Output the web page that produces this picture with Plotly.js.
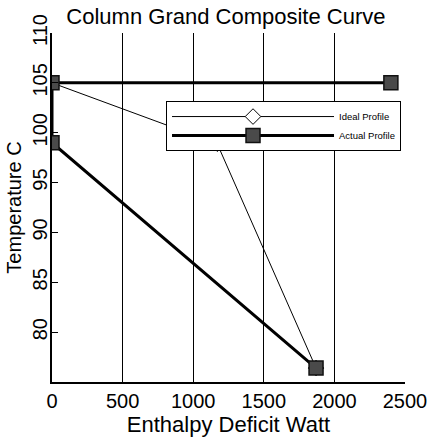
<!DOCTYPE html>
<html><head><meta charset="utf-8">
<script src="https://cdn.plot.ly/plotly-3.0.1.min.js"></script>
<style>html,body{margin:0;padding:0;background:#fff;}#c{width:432px;height:439px;}</style>
</head><body><div id="c"></div>
<script>
const idealX = [0, 1170, 1870];
const idealY = [105, 98.9, 76.4];
const actualX = [2400, 0, 0, 1870];
const actualY = [105, 105, 99, 76.4];
const xTicks = [0, 500, 1000, 1500, 2000, 2500];
const yTicks = [80, 85, 90, 95, 100, 105, 110];

const traces = [
  {x: idealX, y: idealY, name: 'Ideal Profile', mode: 'lines+markers',
   line: {color: '#000', width: 1},
   marker: {symbol: 'diamond', size: 12, color: '#fff', line: {color: '#000', width: 1}}},
  {x: actualX, y: actualY, name: 'Actual Profile', mode: 'lines+markers',
   line: {color: '#000', width: 3},
   marker: {symbol: 'square', size: 14, color: '#4a4a4a', line: {color: '#111', width: 1.5}}}
];
const layout = {
  width: 432, height: 439,
  margin: {l: 52, r: 27, t: 33, b: 57},
  paper_bgcolor: '#fff', plot_bgcolor: '#fff',
  font: {family: 'Liberation Sans, Arial, sans-serif', color: '#000'},
  title: {text: 'Column Grand Composite Curve', font: {size: 22, color: '#000'}, x: 0.523, xanchor: 'center', y: 0.962, yanchor: 'middle'},
  xaxis: {range: [0, 2500], tickvals: xTicks, showgrid: true, gridcolor: '#000', gridwidth: 1,
    zeroline: false, showline: true, linecolor: '#000', linewidth: 1.5, ticks: '',
    tickfont: {size: 20}, title: {text: 'Enthalpy Deficit Watt', font: {size: 22}, standoff: 4}},
  yaxis: {range: [75, 110], tickvals: yTicks, showgrid: false, zeroline: false,
    showline: true, linecolor: '#000', linewidth: 1.5, ticks: 'inside', ticklen: 6, tickcolor: '#000',
    tickangle: -90, tickfont: {size: 20}, ticklabelstandoff: -5,
    title: {text: 'Temperature C', font: {size: 20}, standoff: 2}},
  showlegend: true,
  legend: {x: 0.323, y: 0.805, xanchor: 'left', yanchor: 'top', bgcolor: '#fff', bordercolor: '#000',
    borderwidth: 1, font: {size: 9.5, color: '#000'}, itemwidth: 162, tracegroupgap: 0}
};
Plotly.newPlot('c', traces, layout, {displayModeBar: false});
</script></body></html>
